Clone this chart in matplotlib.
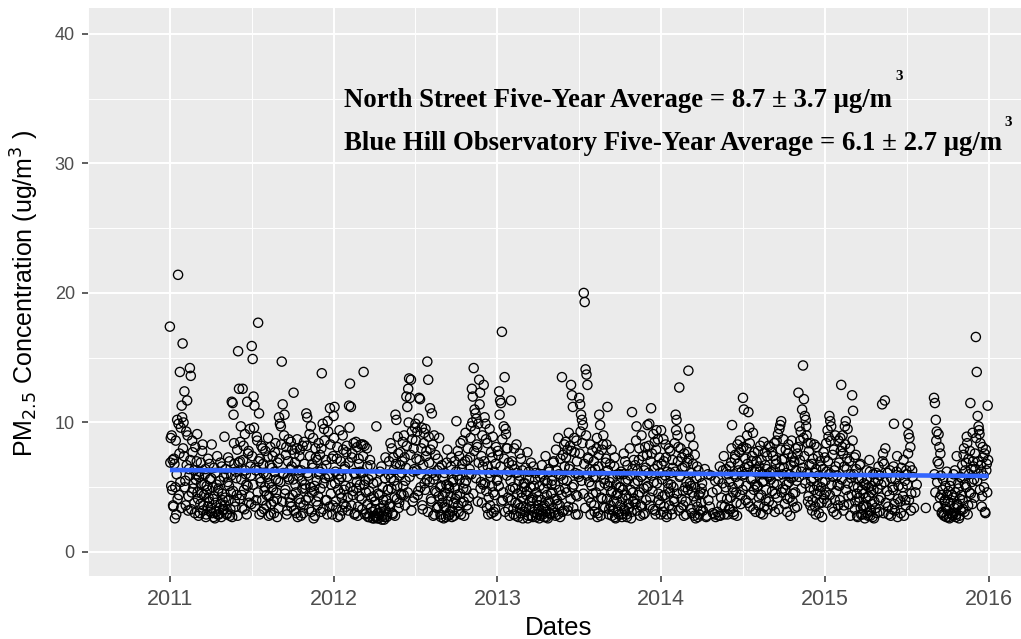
import numpy as np
import matplotlib
matplotlib.use("Agg")
import matplotlib.pyplot as plt

# Daily PM2.5 readings: "_a" holds the odd sampling days, "_b" the even ones,
# 15 samples per month each (None = no sample that day)
pm_2011_a = [
    17.4, 8.8, 9.0, 7.1, 3.5, 6.8, 5.0, 2.9, 10.2, 21.4, 4.4, 13.9, 9.6, 11.3, 16.1,
    10.0, 12.4, 5.5, 9.3, 11.7, 3.2, 6.4, 14.2, 13.6, 4.6, 7.7, 5.3, 3.8, 8.1, 6.0,
    9.1, 4.1, 5.8, 3.0, 6.9, 4.5, 8.3, 3.6, 5.2, 6.4, 2.9, 4.8, 7.2, 3.9, 5.6,
    3.4, 8.3, 5.0, 2.7, 4.3, 6.1, 3.1, 7.4, 4.7, 2.9, 5.5, 3.7, 6.6, 4.0, 3.3,
    8.9, 4.2, 6.0, 3.0, 7.3, 5.1, 2.8, 4.6, 11.6, 11.5, 10.6, 6.8, 3.5, 5.7, 7.9,
    15.5, 12.6, 7.0, 9.7, 4.4, 12.6, 8.2, 3.3, 6.3, 5.2, 11.6, 7.6, 3.8, 9.5, 5.9,
    15.9, 14.9, 12.0, 11.3, 6.5, 4.0, 8.6, 17.7, 10.7, 7.2, 5.4, 3.1, 8.0, 6.1, 4.7,
    7.8, 3.6, 5.8, 8.8, 4.3, 6.7, 2.9, 5.0, 7.4, 3.9, 6.2, 8.4, 4.6, 2.7, 5.5,
    10.4, 9.9, 9.7, 14.7, 11.4, 6.0, 10.6, 4.8, 8.1, 3.2, 7.0, 5.6, 3.8, 8.5, 6.6,
    4.4, 12.3, 7.6, 5.2, 3.0, 8.7, 6.3, 4.1, 7.9, 2.8, 5.5, 8.2, 3.6, 6.8, 4.9,
    10.7, 10.4, 5.9, 3.3, 7.4, 9.7, 4.6, 6.5, 2.6, 5.1, 8.0, 3.9, 7.1, 4.3, 6.0,
    7.5, 3.1, 13.8, 9.9, 5.3, 8.6, 4.0, 6.7, 2.9, 9.3, 5.8, 11.1, 4.5, 7.2, 3.6,
]
pm_2011_b = [
    6.9, 5.1, 4.8, 3.6, 7.2, 2.6, 8.6, 6.0, 4.1, 9.9, 7.6, 5.4, 3.4, 10.4, 8.0,
    7.4, 5.0, 3.6, 6.7, 9.0, 4.3, 5.9, 7.1, 3.3, 8.6, 4.9, 6.3, 3.0, 5.6, 7.0,
    4.6, 2.8, 6.2, 3.7, 5.3, 7.8, 3.2, 4.4, 6.0, 2.7, 5.1, 3.5, 4.2, 6.8, 3.1,
    5.7, 3.0, 4.1, 6.5, 2.6, 3.8, 5.2, 2.9, 4.9, 3.4, 6.9, 2.7, 4.5, 3.2, 5.8,
    3.6, 6.4, 2.9, 5.4, 4.0, 7.0, 3.3, 5.9, 2.7, 4.7, 8.4, 3.9, 6.2, 4.4, 2.8,
    6.9, 4.1, 8.5, 5.6, 3.4, 7.1, 4.8, 9.1, 6.0, 2.9, 5.1, 7.8, 4.3, 6.6, 3.7,
    7.4, 5.2, 9.6, 3.5, 6.3, 8.9, 4.6, 7.0, 2.9, 5.7, 8.2, 4.0, 6.8, 3.3, 5.0,
    6.0, 4.4, 7.3, 2.8, 5.3, 8.1, 3.7, 6.5, 4.8, 3.0, 7.7, 5.6, 4.1, 6.9, 3.4,
    7.2, 5.4, 8.3, 3.9, 6.1, 9.0, 4.5, 7.5, 2.9, 5.8, 8.7, 4.2, 6.4, 3.5, 7.9,
    5.6, 3.2, 6.9, 4.6, 8.0, 2.7, 5.9, 7.4, 3.8, 6.3, 4.9, 3.0, 8.5, 5.2, 4.0,
    8.2, 6.1, 4.2, 9.1, 5.0, 3.1, 6.8, 8.8, 4.7, 2.8, 7.3, 5.5, 3.6, 8.4, 6.2,
    4.9, 8.0, 6.4, 3.3, 9.5, 5.7, 7.1, 4.0, 10.1, 6.0, 3.5, 8.3, 5.2, 2.9, 7.4,
]
pm_2012_a = [
    10.5, 11.2, 6.2, 3.4, 8.1, 4.8, 5.6, 2.8, 7.0, 4.2, 9.0, 3.7, 6.4, 5.1, 7.7,
    5.8, 3.2, 11.3, 13.0, 11.2, 7.3, 4.4, 8.4, 2.9, 6.0, 4.9, 8.1, 3.5, 6.8, 5.2,
    8.3, 4.1, 8.3, 13.9, 8.2, 5.5, 3.0, 6.6, 2.7, 4.7, 7.1, 3.4, 5.9, 2.6, 4.3,
    2.8, 3.3, 9.7, 2.6, 4.5, 2.9, 6.2, 3.1, 2.5, 5.0, 3.6, 2.7, 7.3, 4.0, 2.9,
    4.8, 7.0, 3.5, 5.7, 8.0, 2.9, 6.3, 4.2, 10.6, 10.2, 5.1, 7.6, 3.8, 6.7, 4.5,
    6.1, 8.5, 4.4, 7.3, 5.5, 12.0, 11.2, 12.6, 13.4, 11.9, 13.3, 9.3, 3.9, 8.0, 6.4,
    9.9, 7.2, 9.3, 4.7, 11.9, 11.8, 6.0, 9.6, 3.3, 8.4, 5.3, 9.5, 7.8, 14.7, 13.3,
    6.9, 11.1, 4.1, 10.7, 8.3, 5.6, 2.9, 7.5, 4.6, 6.3, 3.5, 8.8, 5.0, 2.7, 6.7,
    4.3, 2.6, 6.1, 3.4, 5.2, 7.9, 2.8, 4.9, 3.1, 6.6, 2.7, 5.4, 3.8, 7.0, 4.1,
    10.1, 5.9, 3.6, 7.4, 4.5, 2.9, 6.4, 8.6, 3.9, 5.3, 9.2, 4.8, 7.1, 3.3, 6.0,
    7.3, 9.7, 12.6, 12.0, 14.2, 11.0, 10.7, 10.3, 8.1, 9.9, 13.3, 12.3, 5.4, 3.8, 6.6,
    12.9, 10.4, 9.9, 4.7, 8.4, 2.9, 6.1, 3.6, 7.7, 5.1, 8.9, 3.1, 4.4, 6.8, 2.8,
]
pm_2012_b = [
    8.8, 5.3, 3.9, 7.2, 2.7, 6.0, 9.4, 4.5, 5.8, 3.2, 7.9, 4.8, 6.6, 3.5, 8.2,
    4.2, 6.9, 9.6, 5.0, 3.6, 7.6, 4.7, 6.1, 3.0, 8.5, 5.4, 2.8, 7.2, 4.3, 6.2,
    6.1, 3.3, 7.4, 5.2, 2.9, 4.6, 8.0, 3.7, 5.6, 2.7, 6.7, 4.2, 3.1, 5.3, 2.6,
    3.9, 2.7, 5.4, 3.0, 2.6, 4.4, 3.4, 6.6, 2.8, 4.0, 2.5, 5.7, 3.2, 2.7, 4.8,
    6.0, 3.7, 8.4, 4.9, 3.0, 7.3, 5.5, 2.8, 6.8, 4.1, 8.9, 3.4, 5.9, 7.7, 4.4,
    7.0, 5.1, 9.0, 3.6, 6.5, 8.2, 4.6, 10.0, 5.8, 7.5, 3.2, 8.7, 6.2, 4.2, 9.6,
    8.6, 6.3, 4.4, 10.3, 7.1, 5.0, 8.0, 3.6, 6.7, 9.2, 4.8, 7.4, 5.6, 3.1, 8.9,
    5.4, 7.9, 3.9, 6.1, 2.8, 9.0, 4.7, 5.9, 3.4, 7.2, 4.3, 6.5, 2.9, 5.1, 3.8,
    5.8, 3.5, 4.6, 2.7, 6.9, 3.9, 5.1, 2.9, 4.3, 7.3, 3.2, 5.6, 2.8, 4.9, 6.2,
    4.4, 7.8, 3.1, 5.6, 8.4, 3.8, 6.8, 4.9, 2.8, 7.0, 5.5, 3.6, 8.0, 4.2, 6.4,
    8.8, 6.0, 10.0, 4.5, 7.8, 9.4, 5.7, 8.3, 3.9, 6.9, 11.4, 4.9, 7.4, 9.0, 5.2,
    7.0, 5.3, 8.7, 3.4, 6.6, 4.2, 9.5, 5.8, 3.0, 7.3, 4.6, 6.2, 3.3, 8.1, 5.5,
]
pm_2013_a = [
    5.6, 7.5, 12.4, 11.7, 11.5, 17.0, 4.0, 9.7, 13.5, 9.5, 8.0, 8.0, 3.3, 6.2, 4.8,
    11.7, 7.0, 5.0, 2.9, 6.4, 3.8, 8.3, 4.5, 2.7, 5.9, 3.4, 7.2, 4.2, 2.6, 5.3,
    3.1, 6.5, 4.4, 7.7, 2.8, 5.6, 3.5, 6.9, 4.0, 2.7, 5.1, 3.3, 6.1, 4.6, 2.9,
    4.3, 2.6, 5.8, 3.2, 6.7, 2.9, 4.9, 3.6, 7.4, 2.7, 5.3, 3.9, 6.2, 3.0, 4.5,
    5.5, 3.4, 7.0, 4.1, 2.8, 6.3, 3.7, 8.8, 4.8, 2.7, 5.9, 13.5, 7.5, 3.2, 6.6,
    8.5, 4.6, 7.9, 3.5, 6.4, 8.2, 12.9, 12.1, 11.2, 5.2, 7.7, 2.9, 8.6, 4.3, 6.0,
    11.9, 11.4, 10.6, 10.2, 9.8, 20.0, 19.3, 14.1, 13.7, 12.9, 7.2, 5.4, 8.3, 3.8, 6.2,
    4.5, 7.0, 3.1, 5.8, 8.0, 2.7, 6.6, 10.6, 9.8, 4.2, 7.9, 8.3, 3.5, 5.3, 6.9,
    8.3, 11.2, 5.1, 3.3, 6.8, 4.6, 2.8, 5.7, 3.9, 7.3, 2.6, 4.4, 6.0, 3.1, 5.0,
    3.6, 6.2, 2.7, 4.8, 7.6, 3.2, 5.5, 2.9, 6.7, 4.1, 3.4, 5.9, 2.6, 10.8, 4.6,
    7.1, 5.3, 3.7, 9.7, 6.3, 4.4, 8.0, 2.8, 5.8, 3.5, 7.4, 4.9, 3.0, 6.5, 5.0,
    9.8, 6.1, 9.9, 4.2, 11.1, 7.6, 3.3, 5.4, 8.5, 2.9, 9.4, 6.7, 4.5, 7.3, 3.7,
]
pm_2013_b = [
    7.8, 5.1, 10.6, 6.6, 3.9, 8.7, 4.6, 7.2, 3.1, 9.1, 5.9, 4.2, 6.9, 2.8, 5.5,
    4.0, 6.7, 3.3, 8.0, 4.9, 2.8, 6.1, 3.7, 5.5, 7.6, 3.0, 4.6, 6.3, 3.5, 5.0,
    5.3, 3.4, 4.7, 2.6, 6.2, 3.9, 5.0, 2.8, 4.2, 6.6, 3.1, 5.6, 2.7, 4.0, 3.6,
    3.3, 5.1, 2.8, 4.0, 6.0, 3.5, 2.7, 5.5, 3.1, 4.4, 2.6, 6.4, 3.8, 2.9, 5.2,
    4.6, 6.9, 3.0, 5.2, 7.9, 4.0, 2.9, 6.0, 3.6, 7.2, 4.4, 3.1, 5.6, 8.3, 4.9,
    7.3, 5.5, 3.2, 9.2, 6.6, 4.1, 7.8, 5.0, 3.4, 8.8, 6.1, 4.4, 7.0, 2.9, 5.8,
    7.6, 9.3, 5.5, 8.4, 4.5, 6.8, 3.4, 9.0, 5.9, 7.3, 4.2, 6.4, 2.9, 5.1, 7.8,
    5.8, 3.6, 6.4, 4.6, 8.8, 3.0, 7.5, 5.1, 2.8, 6.0, 4.1, 9.0, 5.6, 3.4, 7.2,
    4.1, 6.3, 2.9, 5.4, 3.6, 7.9, 4.7, 3.2, 6.6, 2.7, 5.2, 3.9, 4.5, 2.9, 6.0,
    5.0, 2.9, 4.1, 6.0, 3.3, 7.0, 4.4, 2.7, 5.6, 3.7, 8.0, 4.8, 3.1, 6.4, 3.9,
    4.1, 6.7, 8.6, 3.2, 5.5, 7.1, 4.6, 3.6, 9.0, 5.9, 2.9, 6.3, 8.1, 4.0, 7.5,
    5.1, 8.2, 3.6, 7.0, 5.9, 4.7, 9.1, 6.4, 3.2, 7.9, 5.3, 8.7, 4.0, 6.1, 2.9,
]
pm_2014_a = [
    9.4, 5.6, 3.1, 7.0, 4.4, 8.3, 2.7, 6.2, 4.9, 3.6, 7.8, 5.2, 2.9, 6.5, 4.1,
    8.4, 10.6, 10.2, 9.0, 8.1, 12.7, 5.9, 3.4, 7.3, 4.7, 2.8, 6.6, 3.9, 5.4, 7.7,
    14.0, 9.5, 8.9, 5.1, 3.0, 6.8, 4.3, 7.5, 2.6, 5.7, 3.5, 6.3, 2.9, 4.6, 3.8,
    5.3, 3.2, None, 6.4, None, 2.8, None, 4.0, None, None, 5.9, None, 3.0, None, 2.9,
    2.7, None, 3.1, 5.6, None, 2.8, 4.2, None, 6.3, 7.4, 3.5, 5.0, None, 2.9, 6.0,
    5.4, 3.3, 6.9, 9.8, 4.6, 2.9, 7.2, 5.8, 3.8, 8.3, 6.3, 7.7, 4.4, 7.9, 5.9,
    11.9, 11.0, 6.5, 4.0, 8.0, 6.8, 10.8, 9.6, 3.5, 5.6, 7.4, 9.2, 4.8, 6.2, 3.1,
    7.0, 5.1, 3.6, 6.6, 8.2, 4.4, 6.0, 2.9, 5.5, 7.7, 4.0, 6.4, 3.3, 8.2, 5.8,
    8.1, 6.2, 4.7, 7.4, 5.3, 3.1, 6.8, 8.6, 4.2, 5.9, 9.5, 9.8, 10.1, 7.1, 4.9,
    6.5, 3.7, 7.9, 5.2, 4.1, 8.3, 6.0, 2.8, 5.7, 7.3, 4.5, 6.9, 3.4, 8.0, 5.5,
    7.6, 12.3, 9.7, 8.6, 6.2, 11.0, 14.4, 11.8, 10.5, 10.2, 9.0, 8.4, 4.3, 6.7, 3.6,
    5.5, 3.2, 7.2, 4.8, 6.1, 2.9, 8.1, 4.5, 5.9, 3.8, 7.0, 5.0, 2.7, 6.4, 4.1,
]
pm_2014_b = [
    6.8, 4.3, 8.7, 3.5, 5.9, 7.3, 2.9, 5.3, 8.0, 4.6, 6.1, 3.3, 7.1, 5.0, 3.9,
    6.2, 9.4, 4.5, 7.0, 3.2, 5.8, 8.0, 4.1, 6.5, 3.6, 7.6, 5.0, 2.9, 6.9, 4.8,
    7.2, 5.3, 3.3, 6.1, 4.6, 8.2, 2.8, 5.0, 3.9, 6.6, 2.7, 4.4, 5.8, 3.2, 4.9,
    None, 4.5, None, None, 2.7, None, 6.0, None, 3.5, None, None, 4.6, None, None, 5.5,
    None, 4.8, None, 2.8, 6.6, None, 3.6, 5.3, None, 2.9, None, 6.4, 4.1, None, 3.3,
    6.6, 4.2, 8.0, 5.0, 3.1, 6.0, 7.5, 4.6, 2.8, 6.8, 5.3, 8.6, 3.7, 6.2, 4.8,
    8.1, 6.0, 7.2, 5.1, 9.0, 3.8, 6.6, 8.4, 4.4, 7.0, 5.7, 3.3, 7.7, 5.2, 6.4,
    5.0, 7.8, 4.2, 6.2, 3.0, 7.1, 5.4, 8.5, 3.5, 6.7, 4.8, 7.4, 5.9, 3.9, 6.1,
    5.6, 7.7, 3.6, 6.3, 8.4, 4.5, 7.1, 5.2, 9.1, 3.3, 6.5, 7.9, 4.6, 6.0, 8.7,
    7.2, 4.8, 6.1, 3.1, 7.6, 5.4, 4.2, 6.7, 8.6, 3.9, 5.8, 7.0, 4.6, 6.3, 3.5,
    8.1, 5.8, 7.1, 9.3, 4.9, 6.5, 8.8, 7.4, 5.3, 9.7, 6.1, 3.9, 7.8, 5.0, 8.4,
    6.8, 4.0, 5.7, 8.3, 3.5, 6.4, 5.1, 7.4, 3.0, 4.7, 6.6, 3.8, 5.4, 7.7, 4.4,
]
pm_2015_a = [
    7.3, 4.6, 6.2, 9.4, 8.9, 10.5, 10.1, 9.7, 3.4, 5.8, 7.9, 4.0, 6.6, 2.9, 5.2,
    8.6, 5.1, 8.8, 12.9, 8.1, 7.6, 3.6, 9.7, 10.1, 6.4, 9.5, 4.3, 7.0, 2.8, 5.7,
    12.1, 10.9, 6.0, 3.3, 7.5, 4.5, 2.7, 5.6, 3.9, 6.8, 2.9, 4.8, 3.5, 5.3, 2.6,
    4.2, 6.3, 3.0, 5.0, 7.1, 2.8, 4.6, 3.7, 6.0, 2.6, 5.4, 3.4, None, 4.9, 6.6,
    3.1, None, 5.2, 11.4, 7.6, 6.8, 11.7, 3.8, None, 6.1, 2.9, 4.4, None, 5.7, 3.3,
    4.8, 9.9, 3.2, None, 6.2, 2.7, 5.1, None, 3.9, 6.5, None, 4.3, 2.8, 5.5, 3.6,
    6.0, 9.9, 9.1, 8.8, 8.1, 4.5, 6.3, None, 3.4, None, None, 5.2, None, None, None,
    None, None, None, None, None, None, 3.4, None, None, None, None, None, None, None, None,
    11.9, 11.5, 10.2, 9.3, 7.0, 9.1, 8.1, 7.6, 4.4, 3.1, 5.6, 2.8, 4.0, 3.5, 6.2,
    3.2, 4.7, 2.6, 3.8, 5.5, 2.9, 4.2, 3.0, 6.3, 2.7, 7.4, 3.6, 4.9, 2.8, 5.8,
    4.4, 6.7, 3.3, 8.0, 5.2, 6.9, 8.9, 2.9, 7.2, 4.6, 11.5, 6.4, 3.7, 7.0, 5.6,
    7.6, 16.6, 13.9, 10.5, 9.7, 9.1, 8.4, 6.2, 4.3, 7.3, 5.0, 3.1, 7.9, 6.8, 11.3,
]
pm_2015_b = [
    5.5, 8.4, 3.8, 7.0, 6.0, 4.4, 8.6, 5.2, 7.5, 3.1, 6.3, 9.0, 4.7, 5.9, 3.6,
    6.9, 4.0, 7.8, 5.6, 9.0, 3.2, 6.6, 8.3, 4.8, 7.2, 5.3, 3.7, 8.0, 6.0, 4.4,
    8.6, 5.1, 7.3, 3.9, 6.4, 2.8, 5.0, 4.2, 6.7, 3.4, 5.7, 2.9, 4.5, 3.6, 5.2,
    3.5, 5.6, 2.8, 4.3, 6.2, 3.2, 5.1, 2.7, 4.8, 3.9, None, 6.1, 3.0, 5.5, 4.0,
    5.9, 4.2, None, 7.0, 3.0, 5.4, 8.0, None, 4.7, 3.5, None, 6.3, 2.8, None, 5.0,
    6.6, 3.7, 5.6, None, 7.4, 4.1, None, 5.9, 3.0, None, 5.0, 7.1, None, 4.0, 6.3,
    5.2, 7.6, 4.0, 6.6, 3.2, None, 5.8, None, None, 4.6, None, None, None, None, None,
    None, None, None, None, None, None, None, None, None, None, None, None, None, None, None,
    6.0, 4.6, 8.6, 5.4, 3.5, 6.8, 4.2, 5.9, 3.0, 4.8, 2.9, 3.9, 5.1, 2.7, 4.4,
    3.9, 2.7, 5.1, 3.0, 4.4, 2.8, 6.0, 3.4, 4.6, 2.9, 3.7, 5.3, 2.6, 4.1, 3.2,
    5.7, 4.0, 7.5, 3.1, 6.3, 5.0, 8.4, 3.6, 6.0, 7.8, 4.5, 5.4, 9.2, 6.6, 4.2,
    6.4, 8.8, 5.5, 7.0, 9.4, 4.8, 6.7, 3.5, 8.1, 5.9, 7.6, 3.0, 6.3, 4.6, 7.1,
]
years = [2011, 2012, 2013, 2014, 2015]
pm_a = [pm_2011_a, pm_2012_a, pm_2013_a, pm_2014_a, pm_2015_a]
pm_b = [pm_2011_b, pm_2012_b, pm_2013_b, pm_2014_b, pm_2015_b]

# linear trend (lm fit) at the two ends of the record
trend_dates = [2011.0, 2016.0]
trend_pm = [6.33, 5.87]

year_ticks = [2011, 2012, 2013, 2014, 2015, 2016]
pm_ticks = [0, 10, 20, 30, 40]

dates, values = [], []
for yr, va, vb in zip(years, pm_a, pm_b):
    n = len(va)
    for i in range(n):
        if va[i] is not None:
            dates.append(yr + i / n)
            values.append(va[i])
        if vb[i] is not None:
            dates.append(yr + (i + 0.5) / n)
            values.append(vb[i])

fig = plt.figure(figsize=(10.21, 6.39), dpi=100)
ax = fig.add_axes([88 / 1021, 63 / 639, 933 / 1021, 568 / 639])
ax.set_facecolor("#EBEBEB")

ax.scatter(dates, values, s=44, facecolors="none", edgecolors="black",
           linewidths=0.95, zorder=3)
ax.plot(trend_dates, trend_pm, color="#3366FF", lw=3.3, zorder=4,
        solid_capstyle="butt")

ax.set_xlim(2010.755, 2016.198)
ax.set_ylim(-1.853, 42.0)
ax.set_xticks(year_ticks)
ax.set_xticklabels([str(y) for y in year_ticks])
ax.set_xticks([y + 0.5 for y in year_ticks[:-1]] + [2010.5], minor=True)
ax.set_yticks(pm_ticks)
ax.set_yticks([5, 15, 25, 35], minor=True)

ax.grid(which="major", color="white", lw=1.4, zorder=0)
ax.grid(which="minor", color="white", lw=0.7, zorder=0)
ax.set_axisbelow(True)
for sp in ax.spines.values():
    sp.set_visible(False)

ax.tick_params(which="major", length=4.5, width=1.1, color="#333333",
               labelcolor="#4D4D4D", pad=5)
ax.tick_params(which="minor", length=0)
for lab in ax.get_xticklabels():
    lab.set_fontsize(15.5)
    lab.set_family("Liberation Sans")
for lab in ax.get_yticklabels():
    lab.set_fontsize(13)
    lab.set_family("Liberation Sans")

fig.text(559 / 1021, 4 / 639, "Dates", ha="center", va="baseline",
         fontsize=18.5, family="Liberation Sans", color="black")
fig.text(25 / 1021, 1 - 293 / 639,
         r"PM$_{2.5}$ Concentration (ug/m$^{3}$ )", rotation=90,
         ha="center", va="center", fontsize=18, family="Liberation Sans",
         color="black")

serif = dict(family="Liberation Serif", weight="bold", color="black")
fig.text(344 / 1021, 1 - 107 / 639,
         "North Street Five-Year Average = 8.7 ± 3.7 μg/m",
         ha="left", va="baseline", fontsize=19.3, **serif)
fig.text(899 / 1021, 1 - 77 / 639, "3", ha="center", va="center",
         fontsize=11, **serif)
fig.text(344 / 1021, 1 - 150 / 639,
         "Blue Hill Observatory Five-Year Average = 6.1 ± 2.7 μg/m",
         ha="left", va="baseline", fontsize=19.3, **serif)
fig.text(1008 / 1021, 1 - 122 / 639, "3", ha="center", va="center",
         fontsize=11, **serif)

fig.savefig("out.png", dpi=100)
